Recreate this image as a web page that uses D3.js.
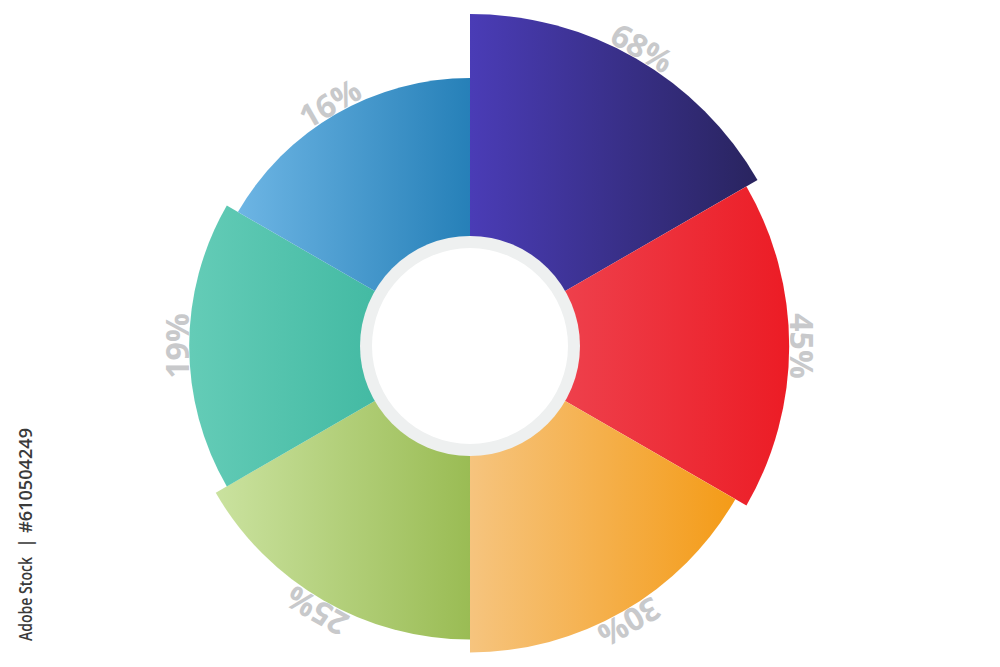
<!DOCTYPE html>
<html>
<head>
<meta charset="utf-8">
<script src="https://cdn.jsdelivr.net/npm/d3@7"></script>
<style>
  html, body { margin: 0; padding: 0; background: #ffffff; }
  svg { display: block; }
</style>
</head>
<body>
<svg id="chart" width="1000" height="667"></svg>
<script>
// ---- data ----
const categories = ["s1", "s2", "s3", "s4", "s5", "s6"];
const values = [68, 45, 30, 25, 19, 16];
const labels = ["68%", "45%", "30%", "25%", "19%", "16%"];
const gradStart = ["#4a3cb6", "#ef4f5c", "#f6c47e", "#cae29f", "#64ccb7", "#6db5e4"];
const gradEnd   = ["#29245f", "#ec1c25", "#f49b17", "#9abc54", "#33b199", "#2680b8"];
const creditParts = ["#610504249", "|", "Adobe Stock"];

const W = 1000, H = 667;
const cx = 470, cy = 346;
const svg = d3.select("#chart");
const defs = svg.append("defs");

const n = categories.length;
const angle = d3.scaleBand().domain(categories).range([0, 2 * Math.PI]);
// outer radius by rank (sorted descending)
const rank = d3.scaleOrdinal().domain(categories).range(d3.range(n));
const radius = d3.scaleLinear().domain([0, n - 1]).range([332, 268]);

categories.forEach((c, i) => {
  const g = defs.append("linearGradient").attr("id", "g" + i)
    .attr("x1", 0).attr("y1", 0).attr("x2", 1).attr("y2", 0);
  g.append("stop").attr("offset", 0).attr("stop-color", gradStart[i]);
  g.append("stop").attr("offset", 1).attr("stop-color", gradEnd[i]);
});

const root = svg.append("g").attr("transform", `translate(${cx},${cy})`);

const data = categories.map((c, i) => ({ c, i, v: values[i], label: labels[i] }));

// labels (behind sectors)
root.selectAll("text.lbl").data(data).join("text")
  .attr("class", "lbl")
  .attr("transform", d => {
    const a = angle(d.c) + angle.bandwidth() / 2;
    const r = radius(rank(d.c)) + 13;
    const x = r * Math.sin(a), y = -r * Math.cos(a);
    return `translate(${x},${y}) rotate(${a * 180 / Math.PI})`;
  })
  .attr("text-anchor", "middle")
  .attr("dominant-baseline", "central")
  .attr("font-family", "'Open Sans', sans-serif")
  .attr("font-weight", 700)
  .attr("font-size", 32)
  .attr("fill", "#c8c9cb")
  .text(d => d.label);

const arc = d3.arc()
  .innerRadius(0)
  .outerRadius(d => radius(rank(d.c)))
  .startAngle(d => angle(d.c))
  .endAngle(d => angle(d.c) + angle.bandwidth());

root.selectAll("path.sec").data(data).join("path")
  .attr("class", "sec")
  .attr("d", arc)
  .attr("fill", d => `url(#g${d.i})`);

// center ring
root.append("circle").attr("r", 110).attr("fill", "#eef0f0");
root.append("circle").attr("r", 98).attr("fill", "#ffffff");

// credit text at left (vertical)
const credit = svg.append("g").attr("font-family", "'Open Sans', sans-serif")
  .attr("font-weight", 600).attr("font-size", 18).attr("fill", "#3a3a3a");
credit.append("text")
  .attr("transform", "translate(32,428) rotate(-90)")
  .attr("text-anchor", "end")
  .attr("textLength", 105).attr("lengthAdjust", "spacingAndGlyphs")
  .text(creditParts[0]);
credit.append("text")
  .attr("transform", "translate(32,543) rotate(-90)")
  .attr("text-anchor", "middle")
  .text(creditParts[1]);
credit.append("text")
  .attr("transform", "translate(32,557) rotate(-90)")
  .attr("text-anchor", "end")
  .attr("textLength", 84).attr("lengthAdjust", "spacingAndGlyphs")
  .text(creditParts[2]);
</script>
</body>
</html>
